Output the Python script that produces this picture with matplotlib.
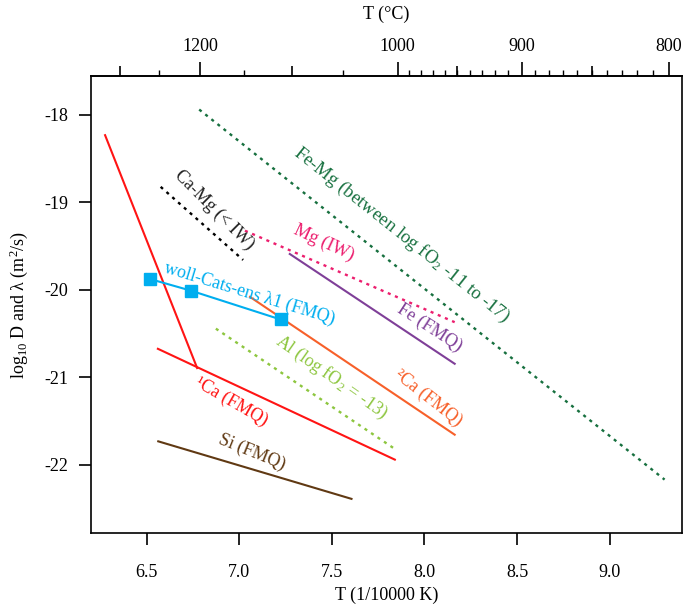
import numpy as np
import matplotlib
matplotlib.use('Agg')
import matplotlib.pyplot as plt
from matplotlib.ticker import FixedLocator, NullFormatter

plt.rcParams['font.family'] = ['Liberation Serif', 'DejaVu Serif']
plt.rcParams['mathtext.fontset'] = 'custom'
plt.rcParams['mathtext.rm'] = 'Liberation Serif'
plt.rcParams['mathtext.it'] = 'Liberation Serif:italic'
plt.rcParams['axes.unicode_minus'] = False

# line end points, x = 10000/T (K), y = log10 D
ca1_steep_x = [6.276, 6.773]
ca1_steep_y = [-18.236, -20.896]
ca1_x = [6.561, 7.840]
ca1_y = [-20.676, -21.942]
si_x = [6.563, 7.606]
si_y = [-21.733, -22.390]
woll_x = [6.518, 6.738, 7.223]
woll_y = [-19.879, -20.011, -20.341]
ca2_x = [7.058, 8.163]
ca2_y = [-20.083, -21.657]
fe_x = [7.273, 8.163]
fe_y = [-19.593, -20.847]
mg_x = [7.031, 8.163]
mg_y = [-19.327, -20.372]
camg_x = [6.576, 7.021]
camg_y = [-18.826, -19.661]
femg_x = [6.784, 9.296]
femg_y = [-17.943, -22.170]
al_x = [6.874, 7.840]
al_y = [-20.446, -21.820]

c_red = '#FF1414'
c_brown = '#603913'
c_cyan = '#00AEEF'
c_orange = '#F7602A'
c_purple = '#7F3F98'
c_pink = '#EC1E6E'
c_green = '#17703F'
c_lgreen = '#8DC63F'

top_major = [1200, 1000, 900, 800]
top_mid = [1300, 1100, 950, 850]
top_minor = [1250, 1150, 1050] + list(range(990, 900, -10)) + list(range(890, 800, -10))

fig = plt.figure(figsize=(6.85, 6.08), dpi=100)
ax = fig.add_subplot(1, 1, 1)
fig.subplots_adjust(left=91/685, right=682/685, bottom=1-533/608, top=1-76/608)

dot = (0, (1.3, 2.0))
ax.plot(ca1_steep_x, ca1_steep_y, color=c_red, lw=1.5)
ax.plot(ca1_x, ca1_y, color=c_red, lw=1.5)
ax.plot(si_x, si_y, color=c_brown, lw=1.5)
ax.plot(ca2_x, ca2_y, color=c_orange, lw=1.5)
ax.plot(fe_x, fe_y, color=c_purple, lw=1.5)
ax.plot(mg_x, mg_y, color=c_pink, lw=1.7, ls=dot)
ax.plot(camg_x, camg_y, color='black', lw=1.7, ls=dot)
ax.plot(femg_x, femg_y, color=c_green, lw=1.7, ls=dot)
ax.plot(al_x, al_y, color=c_lgreen, lw=1.7, ls=dot)
ax.plot(woll_x, woll_y, color=c_cyan, lw=1.5, marker='s', ms=8.5)

fs = 13
txt = dict(ha='center', va='center', rotation_mode='anchor', fontsize=fs)
ax.text(7.876, -19.375, r'Fe-Mg (between log fO$_2$ -11 to -17)', color=c_green, rotation=-38.5, fontsize=13.5,
        ha='center', va='center', rotation_mode='anchor')
ax.text(7.455, -19.463, 'Mg (IW)', color=c_pink, rotation=-25, **txt)
ax.text(6.863, -19.092, 'Ca-Mg (< IW)', color='#222222', rotation=-45, **txt)
ax.text(7.055, -20.051, 'woll-Cats-ens λ1 (FMQ)', color=c_cyan, rotation=-17, **txt)
ax.text(8.030, -20.437, 'Fe (FMQ)', color=c_purple, rotation=-33, **txt)
ax.text(8.021, -21.236, '²Ca (FMQ)', color=c_orange, rotation=-38, **txt)
ax.text(7.497, -21.004, r'Al (log fO$_2$ = -13)', color=c_lgreen, rotation=-35, **txt)
ax.text(6.955, -21.278, '¹Ca (FMQ)', color=c_red, rotation=-30, **txt)
ax.text(7.068, -21.855, 'Si (FMQ)', color=c_brown, rotation=-22, **txt)

ax.set_xlim(6.2, 9.39)
ax.set_ylim(-22.78, -17.56)
ax.set_xticks([6.5, 7.0, 7.5, 8.0, 8.5, 9.0])
ax.set_xticklabels(['6.5', '7.0', '7.5', '8.0', '8.5', '9.0'])
ax.set_yticks([-22, -21, -20, -19, -18])
ax.tick_params(axis='both', direction='out', length=8.5, width=1.2, labelsize=fs, pad=8)
ax.tick_params(axis='x', pad=14)
for s in ax.spines.values():
    s.set_linewidth(1.2)

ax.set_xlabel('T (1/10000 K)', fontsize=fs, labelpad=4)
ax.set_ylabel(r'log$_{10}$ D and λ (m$^2$/s)', fontsize=fs, labelpad=10)


def inv_to_c(x):
    x = np.asarray(x, dtype=float)
    return 10000.0 / np.where(x == 0, 1e-9, x) - 273.15


def c_to_inv(t):
    t = np.asarray(t, dtype=float)
    return 10000.0 / np.where(t + 273.15 == 0, 1e-9, t + 273.15)


sec = ax.secondary_xaxis('top', functions=(inv_to_c, c_to_inv))
sec.xaxis.set_major_locator(FixedLocator(top_major))
sec.xaxis.set_minor_locator(FixedLocator(top_mid))
sec.xaxis.set_minor_formatter(NullFormatter())
sec.set_xticklabels([str(t) for t in top_major])
sec.tick_params(which='major', direction='out', length=10, width=1.2, labelsize=fs, pad=5)
sec.tick_params(which='minor', direction='out', length=7, width=1.2)
sec.spines['top'].set_linewidth(1.2)
sec.set_xlabel('T (°C)', fontsize=fs, labelpad=14)

sec2 = ax.secondary_xaxis('top', functions=(inv_to_c, c_to_inv))
sec2.xaxis.set_major_locator(FixedLocator(top_minor))
sec2.xaxis.set_major_formatter(NullFormatter())
sec2.xaxis.set_minor_locator(FixedLocator([]))
sec2.tick_params(which='major', direction='out', length=4.5, width=1.0)
sec2.spines['top'].set_visible(False)

fig.savefig('out.png', dpi=100)
